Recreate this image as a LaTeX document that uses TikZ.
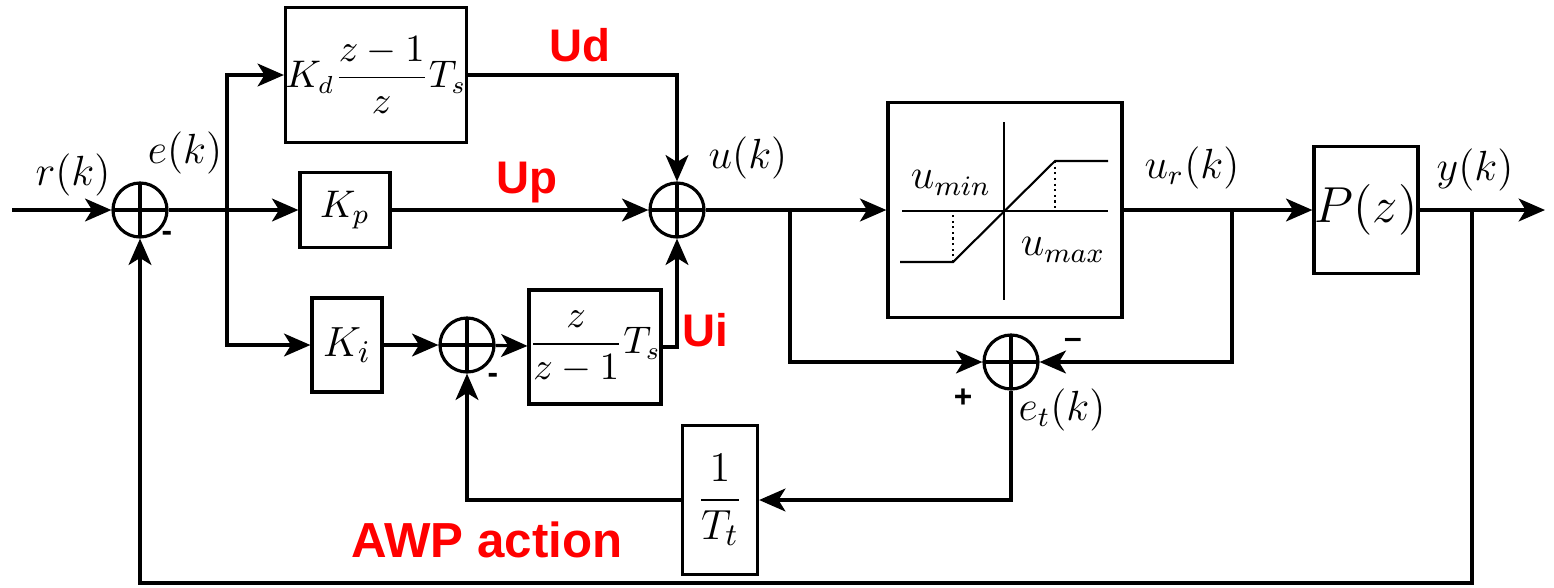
\documentclass[tikz,border=0pt]{standalone}
\usepackage{amsmath}
\usepackage{fontspec}
\setsansfont{Liberation Sans}
\usetikzlibrary{arrows.meta,positioning}

\tikzset{
  line/.style={line width=0.9pt},
  arr/.style={line, -{Stealth[length=7.5pt,width=6.5pt,inset=2pt]}},
  block/.style={draw, line width=0.9pt, inner sep=0pt},
  sumnode/.style={draw, circle, line width=0.9pt, minimum size=0.54cm, inner sep=0pt,
    path picture={\draw[line width=0.9pt]
      (path picture bounding box.north) -- (path picture bounding box.south)
      (path picture bounding box.west) -- (path picture bounding box.east);}},
  sig/.style={font=\fontsize{11.5}{14}\selectfont},
  redlbl/.style={text=red, font=\sffamily\bfseries\fontsize{13}{15}\selectfont},
  signlbl/.style={font=\sffamily\bfseries\fontsize{9}{10}\selectfont},
}

\begin{document}
\begin{tikzpicture}[x=0.01cm, y=-0.01cm]
    \useasboundingbox (0,0) rectangle (1554,587);

    % summing junctions
    \node[sumnode] (s1) at (140,210) {};
    \node[sumnode] (s2) at (677,210) {};
    \node[sumnode] (s3) at (467,345) {};
    \node[sumnode] (s4) at (1011,362) {};

    % PID blocks
    \node[block, minimum width=1.72cm, minimum height=1.35cm, font=\fontsize{10.5}{13}\selectfont] (kd) at (376,75) {$K_d\dfrac{z-1}{z}T_s$};
    \node[block, minimum width=0.9cm, minimum height=0.75cm, font=\fontsize{11}{13}\selectfont] (kp) at (345,210) {$K_p$};
    \node[block, minimum width=0.7cm, minimum height=0.94cm, font=\fontsize{12.5}{14}\selectfont] (ki) at (347,345) {$K_i$};
    \node[block, minimum width=1.26cm, minimum height=1.14cm, font=\fontsize{10.5}{13}\selectfont] (int) at (595,347) {$\dfrac{z}{z-1}T_s$};

    % saturation and plant
    \node[block, minimum width=2.34cm, minimum height=2.15cm] (sat) at (1005,210) {};
    \node[block, minimum width=1.04cm, minimum height=1.27cm, font=\fontsize{14}{16}\selectfont] (plant) at (1366,210) {$P(z)$};

    % anti-windup gain
    \node[block, minimum width=0.75cm, minimum height=1.49cm, font=\fontsize{13}{15}\selectfont] (awp) at (720,500) {$\dfrac{1}{T_t}$};

    % saturation curve
    \draw[line width=0.6pt] (1004,122) -- (1004,300);
    \draw[line width=0.6pt] (902,211) -- (1108,211);
    \draw[line width=0.6pt] (900,262) -- (953,262) -- (1055,161) -- (1108,161);
    \draw[line width=0.6pt, densely dotted] (953,262) -- (953,211);
    \draw[line width=0.6pt, densely dotted] (1055,161) -- (1055,211);
    \node[sig] (umin) at (951,183) {$u_{min}$};
    \node[sig] (umax) at (1063,250) {$u_{max}$};

    % branch points
    \coordinate (in) at (12,210);
    \coordinate (be) at (227,210);
    \coordinate (bu) at (790,210);
    \coordinate (bur) at (1232,210);
    \coordinate (by) at (1472,210);
    \coordinate (out) at (1545,210);
    \coordinate (fb) at (140,583);

    % connectors
    \draw[arr] (in) -- (s1);
    \draw[line] (s1) -- (be);
    \draw[arr] (be) |- (kd);
    \draw[arr] (be) -- (kp);
    \draw[arr] (be) |- (ki);
    \draw[arr] (kd) -| (s2);
    \draw[arr] (kp) -- (s2);
    \draw[arr] (ki) -- (s3);
    \draw[arr] (s3) -- (int);
    \draw[arr] (int) -| (s2);
    \draw[arr] (s2) -- (sat);
    \draw[arr] (bu) |- (s4);
    \draw[arr] (sat) -- (plant);
    \draw[arr] (bur) |- (s4);
    \draw[arr] (plant) -- (out);
    \draw[arr] (by) |- (fb) -- (s1);
    \draw[arr] (s4) |- (awp);
    \draw[arr] (awp) -| (s3);

    % signal labels
    \node[sig] (rk) at (73,175) {$r(k)$};
    \node[sig] (ek) at (185,153) {$e(k)$};
    \node[sig] (uk) at (748,158) {$u(k)$};
    \node[sig] (urk) at (1192,168) {$u_r(k)$};
    \node[sig] (yk) at (1475,170) {$y(k)$};
    \node[sig] (etk) at (1062,410) {$e_t(k)$};

    % signs
    \node[signlbl] (m1) at (167,236) {-};
    \node[signlbl] (m3) at (493,378) {-};
    \node[signlbl] (m4) at (1073,343) {--};
    \node[signlbl] (p4) at (963,398) {+};

    % red annotations
    \node[redlbl] (ud) at (580,45) {Ud};
    \node[redlbl] (up) at (527,183) {Up};
    \node[redlbl] (ui) at (705,330) {Ui};
    \node[redlbl, font=\sffamily\bfseries\fontsize{14}{16}\selectfont] (awpl) at (487,540) {AWP action};
\end{tikzpicture}
\end{document}
